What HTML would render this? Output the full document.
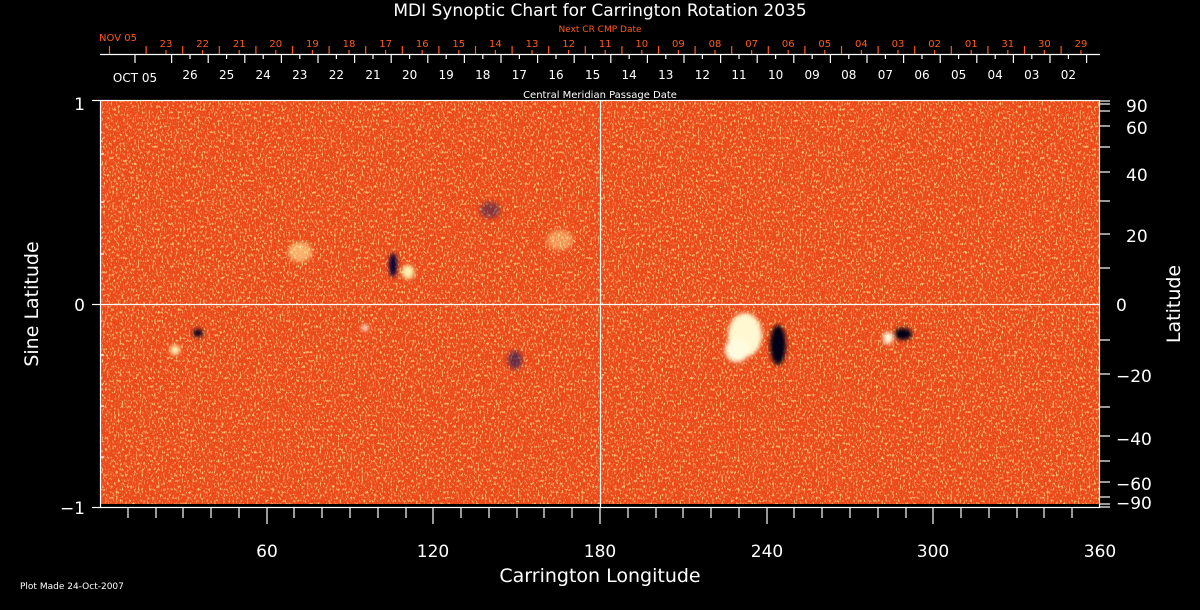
<!DOCTYPE html>
<html><head><meta charset="utf-8"><style>
html,body{margin:0;padding:0;background:#000;width:1200px;height:610px;overflow:hidden}
text{font-family:"DejaVu Sans","Liberation Sans",sans-serif}
</style></head><body>
<svg width="1200" height="610" viewBox="0 0 1200 610" xmlns="http://www.w3.org/2000/svg">
<defs>
<filter id="tex" x="0" y="0" width="100%" height="100%">
<feTurbulence type="fractalNoise" baseFrequency="0.55 0.35" numOctaves="2" seed="3" result="n"/>
<feColorMatrix in="n" type="matrix" values="0 0 0 0 1  0 0 0 0 0.62  0 0 0 0 0.2  4 0 0 0 -2.2" result="y"/>
<feTurbulence type="fractalNoise" baseFrequency="0.6 0.4" numOctaves="1" seed="5" result="n3"/>
<feColorMatrix in="n3" type="matrix" values="0 0 0 0 0.8  0 0 0 0 0.08  0 0 0 0 0.02  -5 0 0 0 2.6" result="r"/>
<feTurbulence type="fractalNoise" baseFrequency="0.7 0.5" numOctaves="1" seed="9" result="n2"/>
<feComponentTransfer in="n2" result="t">
<feFuncA type="discrete" tableValues="0 0 0 0 0 0 0 0 0 0 0 0 0 0 0 0 0 0 0 1"/>
</feComponentTransfer>
<feColorMatrix in="t" type="matrix" values="0 0 0 0 0.1  0 0 0 0 0.1  0 0 0 0 0.6  0 0 0 1 0" result="b"/>
<feMerge><feMergeNode in="SourceGraphic"/><feMergeNode in="r"/><feMergeNode in="y"/><feMergeNode in="b"/></feMerge>
</filter>
<filter id="blur"><feGaussianBlur stdDeviation="2"/></filter>
</defs>
<text x="600" y="16" fill="#fff" font-size="17" text-anchor="middle">MDI Synoptic Chart for Carrington Rotation 2035</text>
<text x="600" y="32" fill="#ff5a1a" font-size="9" text-anchor="middle">Next CR CMP Date</text>
<text x="600" y="98" fill="#fff" font-size="10" text-anchor="middle">Central Meridian Passage Date</text>
<g id="plot">
<rect x="100" y="100" width="1000" height="404" fill="#ec4a14" filter="url(#tex)"/>
<g filter="url(#blur)">
<ellipse cx="745" cy="335" rx="17" ry="22" fill="#fff8d0"/>
<ellipse cx="737" cy="350" rx="12" ry="12" fill="#fffbe0"/>
<ellipse cx="778" cy="345" rx="8" ry="20" fill="#000018"/>
<ellipse cx="903" cy="334" rx="9" ry="6" fill="#000018"/>
<ellipse cx="888" cy="338" rx="5" ry="6" fill="#fffbe0"/>
<ellipse cx="393" cy="265" rx="4" ry="12" fill="#00003a"/>
<ellipse cx="408" cy="272" rx="6" ry="7" fill="#fff3b0"/>
<ellipse cx="300" cy="252" rx="12" ry="10" fill="#fff0a0" opacity="0.6"/>
<ellipse cx="198" cy="333" rx="5" ry="4" fill="#000020"/>
<ellipse cx="175" cy="350" rx="5" ry="5" fill="#fff3b0"/>
<ellipse cx="515" cy="360" rx="7" ry="9" fill="#101060" opacity="0.6"/>
<ellipse cx="490" cy="210" rx="10" ry="8" fill="#101060" opacity="0.45"/>
<ellipse cx="560" cy="240" rx="13" ry="10" fill="#fff0a0" opacity="0.45"/>
<ellipse cx="365" cy="328" rx="3" ry="3" fill="#fff"/>
</g>
<rect x="100" y="504" width="1000" height="4" fill="#000"/>
</g>
<g stroke="#fff" stroke-width="1.2" fill="none">
<rect x="100.5" y="100.5" width="999" height="407"/>
<line x1="600.5" y1="100" x2="600.5" y2="508"/>
<line x1="100" y1="304.5" x2="1100" y2="304.5"/>
<line x1="92" y1="100.5" x2="100" y2="100.5"/><line x1="92" y1="304.5" x2="100" y2="304.5"/><line x1="92" y1="507.5" x2="100" y2="507.5"/>
<g>
<line x1="100" y1="154" x2="104" y2="154"/><line x1="100" y1="202" x2="104" y2="202"/><line x1="100" y1="254" x2="104" y2="254"/>
<line x1="100" y1="355" x2="104" y2="355"/><line x1="100" y1="406" x2="104" y2="406"/><line x1="100" y1="457" x2="104" y2="457"/>
</g>
<g>
<line x1="1100" y1="101" x2="1110" y2="101"/><line x1="1100" y1="104" x2="1110" y2="104"/><line x1="1100" y1="111" x2="1110" y2="111"/>
<line x1="1100" y1="126" x2="1110" y2="126"/><line x1="1100" y1="147" x2="1110" y2="147"/><line x1="1100" y1="172" x2="1110" y2="172"/>
<line x1="1100" y1="201" x2="1110" y2="201"/><line x1="1100" y1="234" x2="1110" y2="234"/><line x1="1100" y1="268" x2="1110" y2="268"/>
<line x1="1100" y1="340" x2="1110" y2="340"/><line x1="1100" y1="374" x2="1110" y2="374"/><line x1="1100" y1="407" x2="1110" y2="407"/>
<line x1="1100" y1="436" x2="1110" y2="436"/><line x1="1100" y1="461" x2="1110" y2="461"/><line x1="1100" y1="482" x2="1110" y2="482"/>
<line x1="1100" y1="497" x2="1110" y2="497"/><line x1="1100" y1="504" x2="1110" y2="504"/><line x1="1100" y1="507" x2="1110" y2="507"/>
</g>
<g>
<line x1="128" y1="508" x2="128" y2="518"/><line x1="156" y1="508" x2="156" y2="518"/><line x1="183" y1="508" x2="183" y2="518"/><line x1="211" y1="508" x2="211" y2="518"/><line x1="239" y1="508" x2="239" y2="518"/>
<line x1="267" y1="508" x2="267" y2="524"/><line x1="294" y1="508" x2="294" y2="518"/><line x1="322" y1="508" x2="322" y2="518"/><line x1="350" y1="508" x2="350" y2="518"/><line x1="378" y1="508" x2="378" y2="518"/><line x1="406" y1="508" x2="406" y2="518"/>
<line x1="433" y1="508" x2="433" y2="524"/><line x1="461" y1="508" x2="461" y2="518"/><line x1="489" y1="508" x2="489" y2="518"/><line x1="517" y1="508" x2="517" y2="518"/><line x1="544" y1="508" x2="544" y2="518"/><line x1="572" y1="508" x2="572" y2="518"/>
<line x1="600" y1="508" x2="600" y2="524"/><line x1="628" y1="508" x2="628" y2="518"/><line x1="656" y1="508" x2="656" y2="518"/><line x1="683" y1="508" x2="683" y2="518"/><line x1="711" y1="508" x2="711" y2="518"/><line x1="739" y1="508" x2="739" y2="518"/>
<line x1="767" y1="508" x2="767" y2="524"/><line x1="794" y1="508" x2="794" y2="518"/><line x1="822" y1="508" x2="822" y2="518"/><line x1="850" y1="508" x2="850" y2="518"/><line x1="878" y1="508" x2="878" y2="518"/><line x1="906" y1="508" x2="906" y2="518"/>
<line x1="933" y1="508" x2="933" y2="524"/><line x1="961" y1="508" x2="961" y2="518"/><line x1="989" y1="508" x2="989" y2="518"/><line x1="1017" y1="508" x2="1017" y2="518"/><line x1="1044" y1="508" x2="1044" y2="518"/><line x1="1072" y1="508" x2="1072" y2="518"/>
</g>
<line x1="100" y1="54.5" x2="1100" y2="54.5"/>
</g>
<g id="topticks"></g>
<g fill="#fff" font-size="17">
<text x="85" y="110" text-anchor="end">1</text>
<text x="85" y="311" text-anchor="end">0</text>
<text x="85" y="514" text-anchor="end">−1</text>
<text x="267" y="557" text-anchor="middle">60</text>
<text x="433" y="557" text-anchor="middle">120</text>
<text x="600" y="557" text-anchor="middle">180</text>
<text x="767" y="557" text-anchor="middle">240</text>
<text x="933" y="557" text-anchor="middle">300</text>
<text x="1100" y="557" text-anchor="middle">360</text>
<text x="600" y="582" text-anchor="middle" font-size="19">Carrington Longitude</text>
<text transform="translate(38,304) rotate(-90)" text-anchor="middle" font-size="19">Sine Latitude</text>
<text transform="translate(1180,304) rotate(-90)" text-anchor="middle" font-size="19">Latitude</text>
<text x="1126" y="112">90</text><text x="1126" y="134">60</text><text x="1126" y="181">40</text>
<text x="1126" y="242">20</text><text x="1116" y="311">0</text>
<text x="1116" y="382">−20</text><text x="1116" y="445">−40</text>
<text x="1116" y="490">−60</text><text x="1116" y="509">−90</text>
</g>
<text x="20" y="589" fill="#fff" font-size="9">Plot Made 24-Oct-2007</text>
</svg>
<script>
(function(){
var ns="http://www.w3.org/2000/svg",g=document.getElementById("topticks");
function L(x1,y1,x2,y2,c){var l=document.createElementNS(ns,"line");l.setAttribute("x1",x1);l.setAttribute("y1",y1);l.setAttribute("x2",x2);l.setAttribute("y2",y2);l.setAttribute("stroke",c);l.setAttribute("stroke-width","1.2");g.appendChild(l);}
function T(x,y,t,c,fs){var e=document.createElementNS(ns,"text");e.setAttribute("x",x);e.setAttribute("y",y);e.setAttribute("fill",c);e.setAttribute("font-size",fs);e.setAttribute("text-anchor","middle");e.textContent=t;g.appendChild(e);}
var sp=36.6,red="#ff5a1a";
var rl=[];for(var d=23;d>=1;d--)rl.push(d<10?"0"+d:""+d);rl.push("31","30","29");
for(var i=0;i<27;i++){var x=109.5+sp*i;if(x<=1100)L(x,46,x,54,red);}
for(i=0;i<rl.length;i++){var x=166+sp*i;L(x,50,x,54,red);T(x,47,rl[i],red,10);}
T(118,41,"NOV 05",red,10);
for(i=0;i<27;i++){var x=135+sp*i;if(x<=1100)L(x,55,x,63,"#fff");}
T(135,82,"OCT 05","#fff",12);
var wl=[];for(d=26;d>=2;d--)wl.push(d<10?"0"+d:""+d);
for(i=0;i<wl.length;i++){var x=190+sp*i;L(x,55,x,59,"#fff");T(x,79,wl[i],"#fff",12);}
})();
</script>
</body></html>
